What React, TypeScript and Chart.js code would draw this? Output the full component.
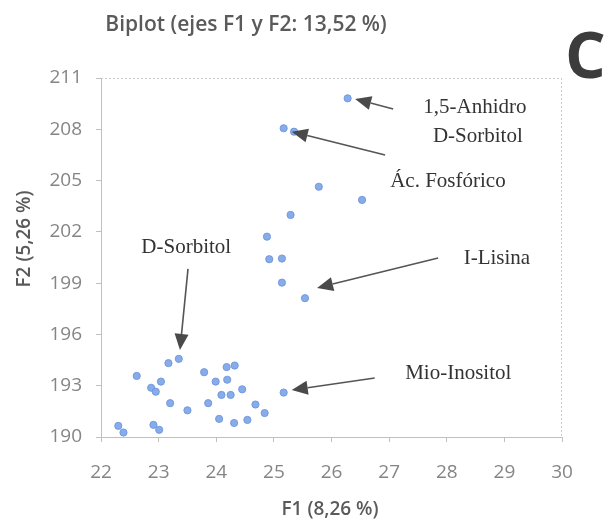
import React, { useEffect, useRef } from "react";
import { Chart, registerables } from "chart.js";

Chart.register(...registerables);

// Scatter data (F1, F2)
const f1Values: number[] = [
  26.28, 25.17, 25.35, 25.78, 26.53, 25.29, 24.88, 24.92, 25.14, 25.14, 25.54,
  22.30, 22.39, 22.62, 22.87, 22.95, 23.04, 22.91, 23.01, 23.20, 23.17, 23.35,
  23.50, 23.79, 23.86, 23.99, 24.05, 24.18, 24.32, 24.19, 24.09, 24.25, 24.45,
  24.31, 24.54, 24.68, 24.84, 25.17,
];
const f2Values: number[] = [
  209.81, 208.06, 207.86, 204.64, 203.87, 202.99, 201.72, 200.40, 200.44, 199.03, 198.12,
  190.65, 190.26, 193.57, 192.88, 192.65, 193.24, 190.71, 190.42, 191.98, 194.32, 194.57,
  191.56, 193.79, 191.98, 193.24, 191.06, 194.09, 194.18, 193.35, 192.46, 192.46, 192.79,
  190.82, 191.00, 191.90, 191.40, 192.60,
];

const xTickMin = 22;
const xTickMax = 30;
const yTickMin = 190;
const yTickMax = 211;

const titleText = "Biplot (ejes F1 y F2: 13,52 %)";
const xTitleText = "F1 (8,26 %)";
const yTitleText = "F2 (5,26 %)";
const panelLetter = "C";

// Annotation labels (in data coordinates)
const labelTexts: string[] = ["1,5-Anhidro", "D-Sorbitol", "Ác. Fosfórico", "I-Lisina", "D-Sorbitol", "Mio-Inositol"];
const labelX: number[] = [28.49, 28.54, 28.02, 28.87, 23.48, 28.2];
const labelY: number[] = [209.3, 207.55, 204.97, 200.47, 201.06, 193.74];

// Arrows (tail -> head, in data coordinates)
const arrowTailX: number[] = [27.07, 26.93, 27.85, 23.51, 26.75];
const arrowTailY: number[] = [209.19, 206.5, 200.47, 199.83, 193.45];
const arrowHeadX: number[] = [26.41, 25.31, 25.75, 23.37, 25.31];
const arrowHeadY: number[] = [209.77, 207.86, 198.72, 195.09, 192.75];

const tickFont = "Open Sans";

const decorPlugin = {
  id: "decor",
  beforeDatasetsDraw(chart: any) {
    const { ctx, chartArea } = chart;
    ctx.save();
    ctx.strokeStyle = "#c8c8c8";
    ctx.lineWidth = 1;
    ctx.setLineDash([2, 2]);
    ctx.beginPath();
    ctx.moveTo(chartArea.left, chartArea.top + 0.5);
    ctx.lineTo(chartArea.right, chartArea.top + 0.5);
    ctx.moveTo(chartArea.right - 0.5, chartArea.top);
    ctx.lineTo(chartArea.right - 0.5, chartArea.bottom);
    ctx.stroke();
    ctx.restore();
  },
  afterDatasetsDraw(chart: any) {
    const { ctx, scales } = chart;
    const xs = scales.x;
    const ys = scales.y;
    ctx.save();
    for (let i = 0; i < arrowTailX.length; i++) {
      const tx = xs.getPixelForValue(arrowTailX[i]);
      const ty = ys.getPixelForValue(arrowTailY[i]);
      const hx = xs.getPixelForValue(arrowHeadX[i]);
      const hy = ys.getPixelForValue(arrowHeadY[i]);
      const ang = Math.atan2(hy - ty, hx - tx);
      const len = 16;
      const hw = 7;
      const bx = hx - len * Math.cos(ang);
      const by = hy - len * Math.sin(ang);
      ctx.strokeStyle = "#555555";
      ctx.lineWidth = 1.6;
      ctx.beginPath();
      ctx.moveTo(tx, ty);
      ctx.lineTo(bx, by);
      ctx.stroke();
      ctx.fillStyle = "#4a4a4a";
      ctx.beginPath();
      ctx.moveTo(hx, hy);
      ctx.lineTo(bx + hw * Math.sin(ang), by - hw * Math.cos(ang));
      ctx.lineTo(bx - hw * Math.sin(ang), by + hw * Math.cos(ang));
      ctx.closePath();
      ctx.fill();
    }
    ctx.fillStyle = "#333333";
    ctx.font = "21px 'Liberation Serif', 'Times New Roman', serif";
    ctx.textAlign = "center";
    ctx.textBaseline = "middle";
    for (let i = 0; i < labelTexts.length; i++) {
      ctx.fillText(labelTexts[i], xs.getPixelForValue(labelX[i]), ys.getPixelForValue(labelY[i]));
    }
    ctx.fillStyle = "#5a5a5a";
    ctx.font = `600 21px '${tickFont}', sans-serif`;
    ctx.fillText(titleText, 246, 25);
    ctx.font = `600 19px '${tickFont}', sans-serif`;
    ctx.fillText(xTitleText, 330, 510);
    ctx.save();
    ctx.translate(25, 239);
    ctx.rotate(-Math.PI / 2);
    ctx.fillText(yTitleText, 0, 0);
    ctx.restore();
    ctx.fillStyle = "#3c3c3c";
    ctx.font = `bold 64px '${tickFont}', sans-serif`;
    ctx.textAlign = "left";
    ctx.textBaseline = "alphabetic";
    ctx.fillText(panelLetter, 565, 78);
    ctx.restore();
  },
};

export default function App() {
  const canvasRef = useRef<HTMLCanvasElement | null>(null);

  useEffect(() => {
    if (!canvasRef.current) return;
    const points = f1Values.map((x, i) => ({ x, y: f2Values[i] }));
    const chart = new Chart(canvasRef.current, {
      type: "scatter",
      data: {
        datasets: [
          {
            label: "Biplot",
            data: points,
            pointRadius: 3.6,
            pointBackgroundColor: "rgba(130,168,232,0.95)",
            pointBorderColor: "rgba(110,150,222,0.9)",
            pointBorderWidth: 1,
          },
        ],
      },
      options: {
        animation: false,
        responsive: false,
        devicePixelRatio: 1,
        layout: { padding: { top: 78, right: 42, left: 0, bottom: 0 } },
        plugins: {
          legend: { display: false },
          tooltip: { enabled: false },
          title: { display: false },
        },
        scales: {
          x: {
            type: "linear",
            min: xTickMin,
            max: xTickMax,
            afterFit: (s: any) => {
              s.height = 94;
            },
            ticks: {
              stepSize: 1,
              color: "#858585",
              font: { family: tickFont, size: 19 },
              padding: 19,
            },
            grid: {
              drawOnChartArea: false,
              drawTicks: true,
              tickLength: 5,
              color: "#c0c0c0",
            },
            border: { display: true, color: "#c0c0c0", dash: [2, 2] },
          },
          y: {
            type: "linear",
            min: yTickMin,
            max: yTickMax,
            afterFit: (s: any) => {
              s.width = 101;
            },
            ticks: {
              stepSize: 3,
              color: "#858585",
              font: { family: tickFont, size: 19 },
              padding: 14,
            },
            grid: {
              drawOnChartArea: false,
              drawTicks: true,
              tickLength: 5,
              color: "#c0c0c0",
            },
            border: { display: true, color: "#c0c0c0", dash: [2, 2] },
          },
        },
      },
      plugins: [decorPlugin],
    });
    return () => chart.destroy();
  }, []);

  return (
    <div style={{ position: "fixed", left: 0, top: 0, width: 604, height: 531, background: "#ffffff" }}>
      <canvas ref={canvasRef} width={604} height={531} style={{ display: "block" }} />
    </div>
  );
}
